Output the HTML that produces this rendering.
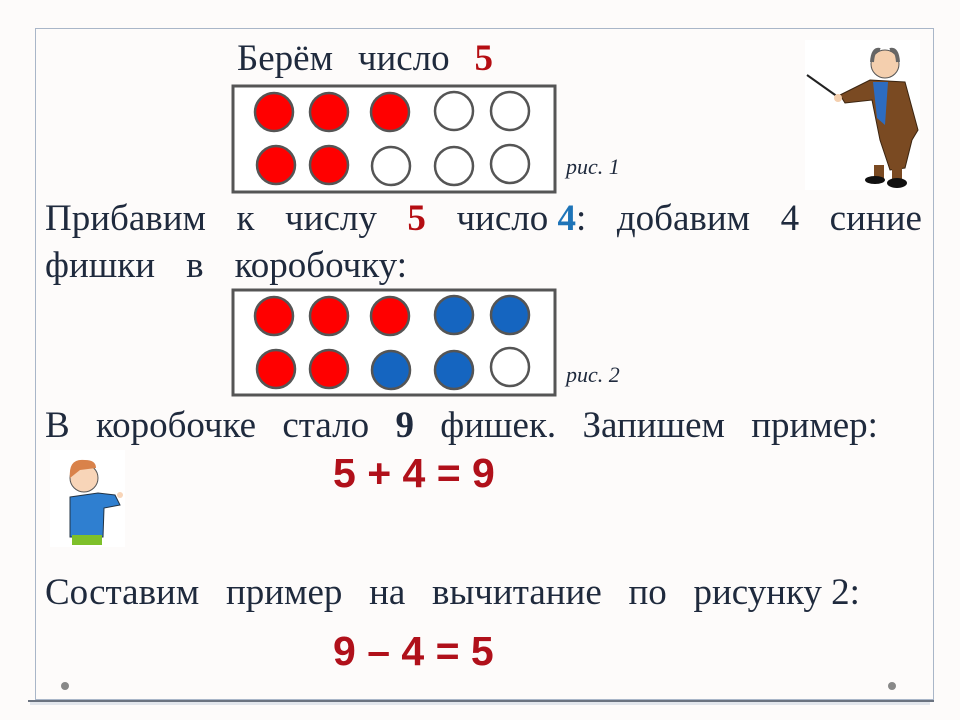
<!DOCTYPE html>
<html><head><meta charset="utf-8"><style>
body{margin:0;width:960px;height:720px;background:#fdfbfa;position:relative;overflow:hidden;font-family:"Liberation Serif",serif;color:#1f2a3d}
.frame{position:absolute;left:35px;top:28px;width:899px;height:672px;border:1px solid #a9b6c8;box-sizing:border-box}
.line{position:absolute;display:flex;justify-content:space-between;font-size:37px;line-height:40px;white-space:nowrap}
.r{color:#b50d12;font-weight:bold}
.b{color:#1e74b8;font-weight:bold}
.eq{position:absolute;font-family:"Liberation Sans",sans-serif;font-weight:bold;color:#b0101a;font-size:41px}
.ric{position:absolute;font-style:italic;font-size:22px;color:#1f2a3d}
.dot{position:absolute;width:8px;height:8px;border-radius:50%;background:#888}
</style></head><body>
<div class="frame"></div>
<div style="position:absolute;left:28px;top:700px;width:906px;height:2px;background:#6b7380"></div>
<div style="position:absolute;left:30px;top:702px;width:900px;height:3px;background:#e2e6ec"></div>
<div class="dot" style="left:61px;top:682px"></div>
<div class="dot" style="left:888px;top:682px"></div>

<div class="line" style="left:237px;top:39px;width:256px"><span>Берём</span><span>число</span><span class="r">5</span></div>
<div class="line" style="left:45px;top:199px;width:877px"><span>Прибавим</span><span>к</span><span>числу</span><span class="r">5</span><span>число <span class="b">4</span>:</span><span>добавим</span><span>4</span><span>синие</span></div>
<div class="line" style="left:45px;top:246px;width:362px"><span>фишки</span><span>в</span><span>коробочку:</span></div>
<div class="line" style="left:45px;top:406px;width:833px"><span>В</span><span>коробочке</span><span>стало</span><span class="r" style="color:#1f2a3d">9</span><span>фишек.</span><span>Запишем</span><span>пример:</span></div>
<div class="line" style="left:45px;top:573px;width:815px"><span>Составим</span><span>пример</span><span>на</span><span>вычитание</span><span>по</span><span>рисунку 2:</span></div>

<div class="eq" style="left:333px;top:450px">5 + 4 = 9</div>
<div class="eq" style="left:333px;top:628px">9 – 4 = 5</div>
<div class="ric" style="left:566px;top:154px">рис. 1</div>
<div class="ric" style="left:566px;top:362px">рис. 2</div>

<svg width="960" height="720" style="position:absolute;left:0;top:0">
<g stroke="#555" stroke-width="3" fill="#fff">
<rect x="233" y="86" width="322" height="106"/>
<rect x="233" y="290" width="322" height="105"/>
</g>
<g stroke="#555" stroke-width="2.5">
<circle cx="274" cy="112" r="19" fill="#f00"/><circle cx="329" cy="112" r="19" fill="#f00"/><circle cx="390" cy="112" r="19" fill="#f00"/><circle cx="454" cy="111" r="19" fill="#fff"/><circle cx="510" cy="111" r="19" fill="#fff"/>
<circle cx="276" cy="165" r="19" fill="#f00"/><circle cx="329" cy="165" r="19" fill="#f00"/><circle cx="391" cy="166" r="19" fill="#fff"/><circle cx="454" cy="166" r="19" fill="#fff"/><circle cx="510" cy="164" r="19" fill="#fff"/>
<circle cx="274" cy="316" r="19" fill="#f00"/><circle cx="329" cy="316" r="19" fill="#f00"/><circle cx="390" cy="316" r="19" fill="#f00"/><circle cx="454" cy="315" r="19" fill="#1565c0"/><circle cx="510" cy="315" r="19" fill="#1565c0"/>
<circle cx="276" cy="369" r="19" fill="#f00"/><circle cx="329" cy="369" r="19" fill="#f00"/><circle cx="391" cy="370" r="19" fill="#1565c0"/><circle cx="454" cy="370" r="19" fill="#1565c0"/><circle cx="510" cy="367" r="19" fill="#fff"/>
</g>
<rect x="805" y="40" width="115" height="150" fill="#fff"/>
<line x1="807" y1="75" x2="838" y2="97" stroke="#222" stroke-width="2"/>
<path d="M840 95 L870 80 L905 82 L918 130 L912 140 L905 168 L890 170 L880 140 L872 100 L845 103 Z" fill="#7a4a22" stroke="#3a2410"/>
<path d="M873 82 L888 82 L885 125 L877 118 Z" fill="#2d6cc0"/>
<rect x="874" y="165" width="10" height="15" fill="#7a4a22"/><rect x="892" y="165" width="10" height="15" fill="#7a4a22"/>
<ellipse cx="875" cy="180" rx="10" ry="4" fill="#111"/><ellipse cx="897" cy="183" rx="10" ry="5" fill="#111"/>
<circle cx="885" cy="64" r="14" fill="#f4cfae" stroke="#555"/>
<path d="M872 62 Q873 48 880 50 M898 62 Q897 48 890 50" stroke="#666" stroke-width="4" fill="none"/>
<circle cx="838" cy="98" r="4" fill="#f4cfae"/>
<rect x="50" y="450" width="75" height="97" fill="#fff"/>
<path d="M70 497 L98 493 L115 495 L120 505 L104 508 L103 537 L70 537 Z" fill="#2f7fd0" stroke="#234"/>
<rect x="72" y="535" width="30" height="10" fill="#7ec02a"/>
<circle cx="84" cy="478" r="14" fill="#f8d5b8" stroke="#555"/>
<path d="M70 478 Q68 458 85 460 Q96 460 96 468 L80 470 Z" fill="#d9824a"/>
<circle cx="120" cy="495" r="3" fill="#f8d5b8"/>
</svg>
</body></html>
